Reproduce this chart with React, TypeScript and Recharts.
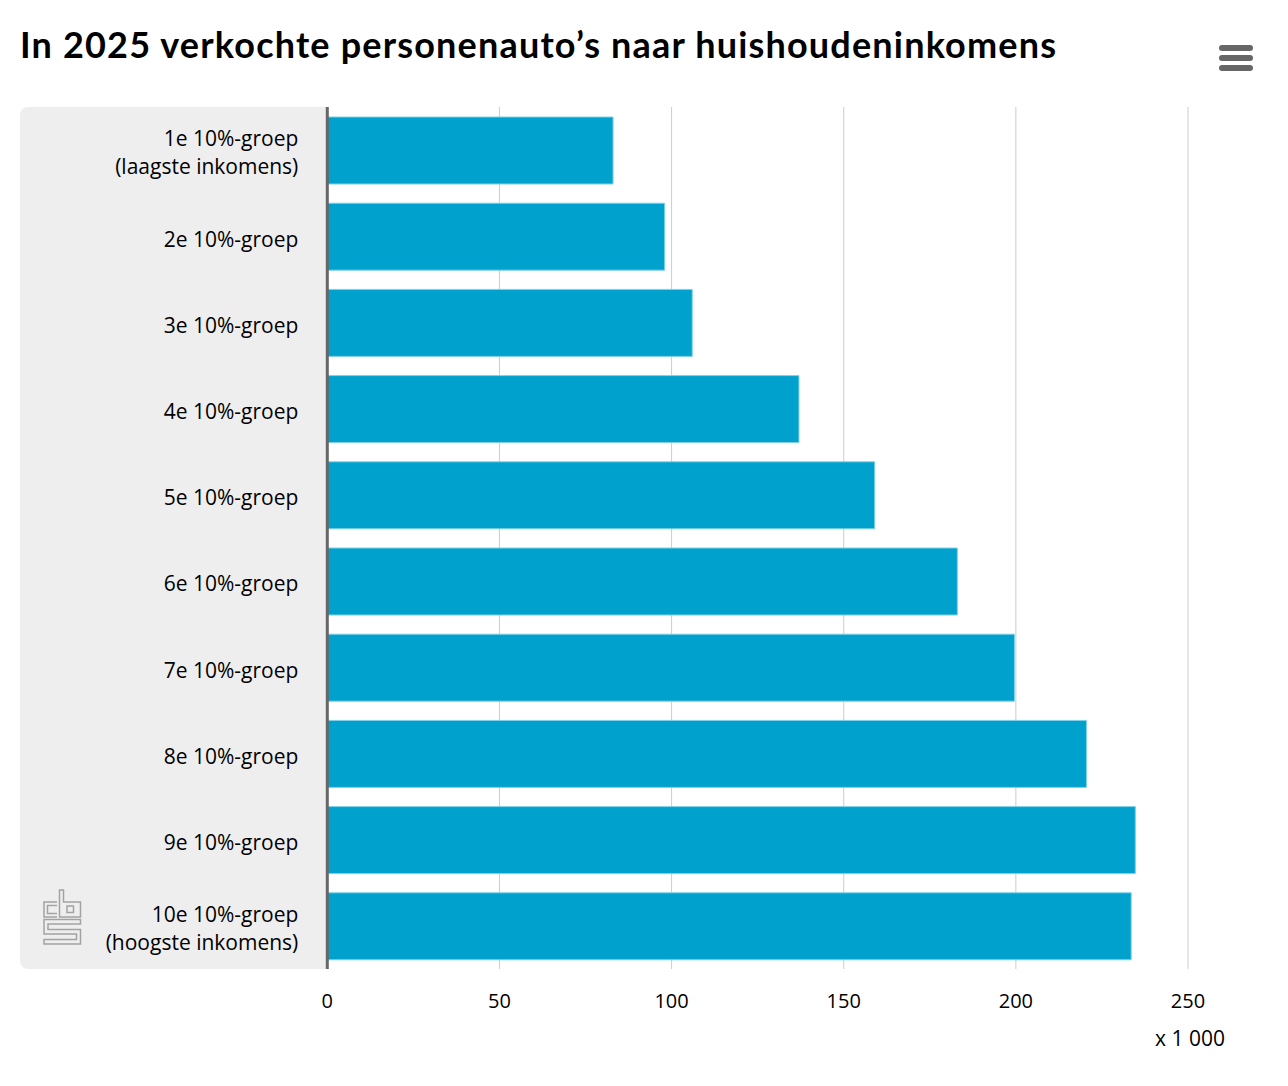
import { BarChart, Bar, XAxis, YAxis, CartesianGrid } from "recharts";

const GROUPS = [
  "1e 10%-groep\n(laagste inkomens)",
  "2e 10%-groep",
  "3e 10%-groep",
  "4e 10%-groep",
  "5e 10%-groep",
  "6e 10%-groep",
  "7e 10%-groep",
  "8e 10%-groep",
  "9e 10%-groep",
  "10e 10%-groep\n(hoogste inkomens)",
];

// verkochte personenauto's, x 1 000
const SOLD = [83, 98, 106, 137, 159, 183, 199.6, 220.5, 234.7, 233.5];

const X_TICKS = [0, 50, 100, 150, 200, 250];

const FONT = "'Open Sans', 'Noto Sans', sans-serif";
const TITLE_FONT = "Lato, 'Noto Sans', sans-serif";

const chartData = GROUPS.map((g, i) => ({ group: g, sold: SOLD[i] }));

function GroupTick({ x, y, payload }: { x?: number; y?: number; payload?: { value: string } }) {
  const lines = String(payload?.value ?? "").split("\n");
  const lh = 28;
  const start = -((lines.length - 1) * lh) / 2;
  return (
    <text x={x} y={y} textAnchor="end" fontFamily={FONT} fontSize={21} fill="#000">
      {lines.map((l, i) => (
        <tspan key={i} x={x} y={(y ?? 0) + start + i * lh + 3} dy="0.35em">
          {l}
        </tspan>
      ))}
    </text>
  );
}

function Backdrop() {
  return (
    <svg width={1288} height={1086} style={{ position: "absolute", left: 0, top: 0 }}>
      <path d="M328,107 H28 A8,8 0 0 0 20,115 V961 A8,8 0 0 0 28,969 H328 Z" fill="#eeeeee" />
      <text
        x={20}
        y={58}
        fontFamily={TITLE_FONT}
        fontWeight={700}
        fontSize={36}
        fill="#000"
        textLength={1036}
        lengthAdjust="spacing"
      >
        In 2025 verkochte personenauto’s naar huishoudeninkomens
      </text>
      {/* menu */}
      {[45, 55, 65].map((yy) => (
        <rect key={yy} x={1219} y={yy} width={34} height={6} rx={3} fill="#666" />
      ))}
      {/* cbs logo */}
      <g fill="none" stroke="#a3a3a3" strokeWidth={1.5}>
        <path d="M57,902 H44 V917 H57 M57,905.5 H47.5 V913.5 H57" />
        <path d="M59.5,890 H63.5 V902 H80.5 V917 H59.5 Z M67,906 H73.5 V912.5 H67 Z" />
        <path d="M80.5,919.5 H44 V934 H76.5 V939.5 H44 V944 H80.5 V929.5 H48 V924 H80.5 Z" />
      </g>
      <text x={1225} y={1046} textAnchor="end" fontFamily={FONT} fontSize={21} fill="#000">
        x 1 000
      </text>
    </svg>
  );
}

export default function App() {
  return (
    <div style={{ position: "absolute", left: 0, top: 0, width: 1288, height: 1086, background: "#fff" }}>
      <Backdrop />
      <div style={{ position: "absolute", left: 0, top: 0 }}>
        <BarChart
          width={1288}
          height={1086}
          data={chartData}
          layout="vertical"
          margin={{ top: 107, right: 100, bottom: 0, left: 20 }}
          barSize={67}
        >
          <CartesianGrid horizontal={false} stroke="#cccccc" strokeWidth={1} verticalValues={X_TICKS.slice(1)} />
          <XAxis
            type="number"
            domain={[0, 250]}
            ticks={X_TICKS}
            axisLine={false}
            tickLine={false}
            tickSize={0}
            tickMargin={25}
            height={117}
            tick={{ fontFamily: FONT, fontSize: 20, fill: "#000" }}
          />
          <YAxis
            type="category"
            dataKey="group"
            width={307.3}
            axisLine={{ stroke: "#666666", strokeWidth: 3 }}
            tickLine={false}
            tickSize={0}
            tickMargin={29}
            tick={<GroupTick />}
          />
          <Bar dataKey="sold" fill="#00a1cd" stroke="#80d0e8" strokeWidth={1} isAnimationActive={false} />
        </BarChart>
      </div>
    </div>
  );
}
